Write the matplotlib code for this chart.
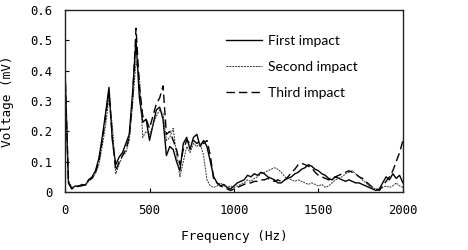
import numpy as np
import matplotlib
matplotlib.use("Agg")
import matplotlib.pyplot as plt

# frequency grid (Hz), one value every 20 Hz
freq = np.arange(0, 2001, 20)

# voltage spectra (mV)
first_impact = [
    0.40, 0.03, 0.012, 0.02, 0.018, 0.025, 0.022, 0.04, 0.05, 0.07,
    0.11, 0.18, 0.26, 0.345, 0.17, 0.09, 0.115, 0.13, 0.16, 0.19,
    0.33, 0.50, 0.31, 0.23, 0.24, 0.17, 0.22, 0.27, 0.28, 0.24,
    0.12, 0.15, 0.14, 0.10, 0.07, 0.16, 0.18, 0.14, 0.18, 0.19,
    0.15, 0.17, 0.15, 0.10, 0.05, 0.03, 0.02, 0.025, 0.015, 0.01,
    0.02, 0.03, 0.035, 0.04, 0.055, 0.05, 0.06, 0.055, 0.065, 0.06,
    0.05, 0.045, 0.04, 0.03, 0.03, 0.04, 0.045, 0.05, 0.06, 0.065,
    0.075, 0.08, 0.09, 0.085, 0.075, 0.07, 0.06, 0.055, 0.045, 0.04,
    0.05, 0.045, 0.04, 0.035, 0.04, 0.035, 0.03, 0.03, 0.025, 0.02,
    0.015, 0.01, 0.005, 0.01, 0.03, 0.05, 0.04, 0.06, 0.045, 0.055,
    0.03,
]
second_impact = [
    0.38, 0.04, 0.015, 0.018, 0.02, 0.022, 0.025, 0.035, 0.045, 0.06,
    0.09, 0.15, 0.22, 0.31, 0.22, 0.06, 0.09, 0.12, 0.13, 0.17,
    0.29, 0.43, 0.38, 0.18, 0.20, 0.19, 0.22, 0.25, 0.27, 0.26,
    0.17, 0.18, 0.21, 0.12, 0.05, 0.10, 0.15, 0.13, 0.16, 0.15,
    0.16, 0.12, 0.04, 0.02, 0.015, 0.02, 0.03, 0.02, 0.015, 0.02,
    0.015, 0.02, 0.025, 0.03, 0.04, 0.035, 0.045, 0.05, 0.06, 0.065,
    0.07, 0.075, 0.08, 0.075, 0.065, 0.05, 0.045, 0.04, 0.035, 0.04,
    0.035, 0.03, 0.025, 0.03, 0.025, 0.02, 0.025, 0.015, 0.02, 0.03,
    0.04, 0.045, 0.05, 0.06, 0.065, 0.07, 0.06, 0.05, 0.04, 0.03,
    0.02, 0.015, 0.01, 0.008, 0.015, 0.02, 0.015, 0.02, 0.03, 0.02,
    0.015,
]
third_impact = [
    0.40, 0.03, 0.01, 0.015, 0.02, 0.02, 0.025, 0.04, 0.045, 0.065,
    0.10, 0.17, 0.25, 0.33, 0.18, 0.07, 0.10, 0.12, 0.14, 0.18,
    0.31, 0.54, 0.35, 0.25, 0.24, 0.21, 0.25, 0.29, 0.31, 0.35,
    0.19, 0.20, 0.17, 0.14, 0.09, 0.14, 0.17, 0.16, 0.17, 0.16,
    0.17, 0.16, 0.17, 0.12, 0.04, 0.03, 0.02, 0.015, 0.01, 0.005,
    0.01, 0.015, 0.02, 0.025, 0.03, 0.03, 0.035, 0.035, 0.04, 0.04,
    0.045, 0.04, 0.035, 0.04, 0.035, 0.04, 0.05, 0.065, 0.075, 0.09,
    0.095, 0.09, 0.085, 0.08, 0.065, 0.055, 0.05, 0.045, 0.04, 0.045,
    0.05, 0.055, 0.06, 0.065, 0.07, 0.065, 0.06, 0.05, 0.045, 0.035,
    0.025, 0.015, 0.01, 0.005, 0.02, 0.035, 0.05, 0.07, 0.10, 0.13,
    0.17,
]

x_ticks = [0, 500, 1000, 1500, 2000]
y_ticks = [0, 0.1, 0.2, 0.3, 0.4, 0.5, 0.6]
y_tick_labels = ["0", "0.1", "0.2", "0.3", "0.4", "0.5", "0.6"]

mono = "DejaVu Sans Mono"

fig = plt.figure(figsize=(4.68, 2.5), dpi=100)
ax = fig.add_axes([0.139, 0.232, 0.722, 0.728])

ax.plot(freq, first_impact, color="black", lw=1.0, ls="-", label="First impact")
ax.plot(freq, second_impact, color="#333333", lw=0.7, ls=(0, (2, 1)), label="Second impact")
ax.plot(freq, third_impact, color="black", lw=1.0, ls=(0, (6, 3)), label="Third impact")

ax.set_xlim(0, 2000)
ax.set_ylim(0, 0.6)
ax.set_xticks(x_ticks)
ax.set_yticks(y_ticks)
ax.set_yticklabels(y_tick_labels)
ax.tick_params(direction="in", length=3, width=0.8, labelsize=8.8)
ax.tick_params(axis="x", pad=9)
ax.tick_params(axis="y", pad=9)
for lab in ax.get_xticklabels() + ax.get_yticklabels():
    lab.set_family(mono)

for s in ax.spines.values():
    s.set_linewidth(1.0)
    s.set_color("#222222")

ax.set_xlabel("Frequency (Hz)", family=mono, fontsize=9.2, labelpad=9)
ax.set_ylabel("Voltage (mV)", family=mono, fontsize=9.2, labelpad=12)

ax.legend(loc="upper left", bbox_to_anchor=(0.44, 0.93), frameon=False,
          handlelength=2.6, handletextpad=0.4, labelspacing=1.0,
          prop={"family": "Lato", "size": 10})

fig.savefig("out.png", dpi=100)
